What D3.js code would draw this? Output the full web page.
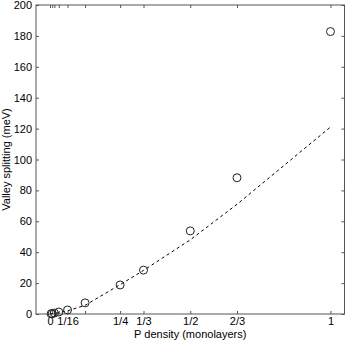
<!DOCTYPE html>
<html><head><meta charset="utf-8">
<script src="https://cdn.jsdelivr.net/npm/d3@7"></script>
<style>
html,body{margin:0;padding:0;background:#fff;}
svg text{font-family:"Liberation Sans",Arial,Helvetica,sans-serif;}
</style></head>
<body>
<script>
// Data
const density = [1/256, 1/128, 1/64, 1/32, 1/16, 1/8, 1/4, 1/3, 1/2, 2/3, 1];
const splitting = [0.15, 0.3, 0.6, 1.3, 2.6, 7.2, 18.8, 28.4, 53.8, 88.2, 182.8];
const fitDensity = [0, 1/256, 1/128, 1/64, 1/32, 1/16, 1/8, 1/4, 1/3, 1/2, 2/3, 1];
const fitSplitting = [0, 0.1, 0.2, 0.4, 0.9, 2.1, 5.6, 19.0, 28.2, 48.0, 71.0, 121.0];
const xTickValues = [0, 1/128, 1/64, 1/32, 1/16, 1/8, 1/4, 1/3, 1/2, 2/3, 1];
const xTickLabels = ["0", "", "", "", "1/16", "", "1/4", "1/3", "1/2", "2/3", "1"];
const yTickValues = [0, 20, 40, 60, 80, 100, 120, 140, 160, 180, 200];

const W = 346, H = 342;
const L = 36, R = 344.5, T = 5, B = 314;
const svg = d3.select("body").append("svg").attr("width", W).attr("height", H);

const x = d3.scaleLinear().domain([-0.05, 1.05]).range([L, R]);
const y = d3.scaleLinear().domain([0, 200]).range([B, T]);

const axisColor = "#555";
const tickLen = 3;

// frame
svg.append("rect").attr("x", L).attr("y", T).attr("width", R - L).attr("height", B - T)
  .attr("fill", "none").attr("stroke", axisColor).attr("stroke-width", 1);

// y axis ticks left & right
const yAxisL = d3.axisLeft(y).tickValues(yTickValues).tickSizeInner(-tickLen).tickSizeOuter(0).tickPadding(4);
const gyl = svg.append("g").attr("transform", `translate(${L},0)`).call(yAxisL);
const yAxisR = d3.axisRight(y).tickValues(yTickValues).tickSizeInner(-tickLen).tickSizeOuter(0).tickFormat("");
const gyr = svg.append("g").attr("transform", `translate(${R},0)`).call(yAxisR);

// x axis ticks bottom & top
const xAxisB = d3.axisBottom(x).tickValues(xTickValues).tickSizeInner(-tickLen).tickSizeOuter(0)
  .tickPadding(3).tickFormat((d, i) => xTickLabels[i]);
const gxb = svg.append("g").attr("transform", `translate(0,${B})`).call(xAxisB);
const xAxisT = d3.axisTop(x).tickValues(xTickValues).tickSizeInner(-tickLen).tickSizeOuter(0).tickFormat("");
const gxt = svg.append("g").attr("transform", `translate(0,${T})`).call(xAxisT);

[gyl, gyr, gxb, gxt].forEach(g => {
  g.select(".domain").remove();
  g.selectAll(".tick line").attr("stroke", axisColor).attr("stroke-width", 1);
  g.selectAll("text").attr("font-size", 11).attr("fill", "#000");
});

// dashed fit line
const line = d3.line().x((d, i) => x(fitDensity[i])).y(d => y(d));
svg.append("path").datum(fitSplitting).attr("d", line)
  .attr("fill", "none").attr("stroke", "#000").attr("stroke-width", 1)
  .attr("stroke-dasharray", "3,3");

// data circles
svg.append("g").selectAll("circle").data(splitting).join("circle")
  .attr("cx", (d, i) => x(density[i])).attr("cy", d => y(d)).attr("r", 4)
  .attr("fill", "none").attr("stroke", "#222").attr("stroke-width", 1);

// axis labels
svg.append("text").attr("x", (L + R) / 2).attr("y", 338).attr("text-anchor", "middle")
  .attr("font-size", 11).text("P density (monolayers)");
svg.append("text").attr("transform", `translate(10,${(T + B) / 2}) rotate(-90)`)
  .attr("text-anchor", "middle").attr("font-size", 11).text("Valley splitting (meV)");
</script>
</body></html>
